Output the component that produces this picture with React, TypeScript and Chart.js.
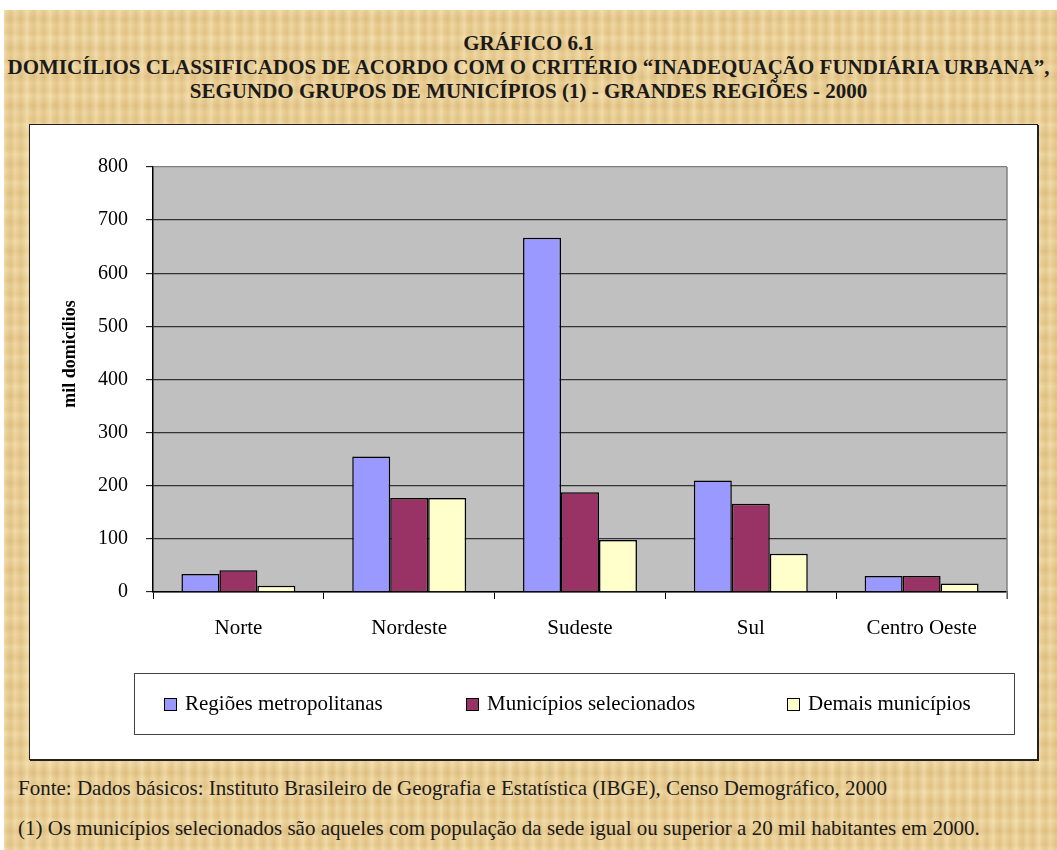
import React, { useEffect, useRef } from "react";
import { Chart, registerables } from "chart.js";

Chart.register(...registerables);

const categories = ["Norte", "Nordeste", "Sudeste", "Sul", "Centro Oeste"];
const regioesMetropolitanas = [34, 255, 667, 210, 30];
const municipiosSelecionados = [41, 177, 188, 166, 30];
const demaisMunicipios = [12, 177, 98, 72, 16];
const seriesNames = ["Regiões metropolitanas", "Municípios selecionados", "Demais municípios"];
const seriesColors = ["#9999FF", "#993366", "#FFFFCC"];
const yTickValues = [0, 100, 200, 300, 400, 500, 600, 700, 800];

const titleLines = [
  "GRÁFICO 6.1",
  "DOMICÍLIOS CLASSIFICADOS DE ACORDO COM O CRITÉRIO “INADEQUAÇÃO FUNDIÁRIA URBANA”,",
  "SEGUNDO GRUPOS DE MUNICÍPIOS (1) - GRANDES REGIÕES - 2000",
];
const yAxisTitle = "mil domicílios";
const footnotes = [
  "Fonte: Dados básicos: Instituto Brasileiro de Geografia e Estatística (IBGE), Censo Demográfico, 2000",
  "(1) Os municípios selecionados são aqueles com população da sede igual ou superior a 20 mil habitantes em 2000.",
];

const SERIF = "'Liberation Serif', 'Times New Roman', serif";

const plotBg = {
  id: "plotBg",
  beforeDraw(chart: any) {
    const { ctx, chartArea } = chart;
    ctx.save();
    ctx.fillStyle = "#C0C0C0";
    ctx.fillRect(chartArea.left, chartArea.top, chartArea.right - chartArea.left, chartArea.bottom - chartArea.top);
    ctx.restore();
  },
  afterDraw(chart: any) {
    const { ctx, chartArea } = chart;
    ctx.save();
    ctx.strokeStyle = "#808080";
    ctx.lineWidth = 1.5;
    ctx.beginPath();
    ctx.moveTo(chartArea.right, chartArea.top);
    ctx.lineTo(chartArea.right, chartArea.bottom + 7);
    ctx.stroke();
    // y axis title
    ctx.translate(40, 229);
    ctx.rotate(-Math.PI / 2);
    ctx.fillStyle = "#000000";
    ctx.font = `bold 18px ${SERIF}`;
    ctx.textAlign = "center";
    ctx.textBaseline = "middle";
    ctx.fillText(yAxisTitle, 0, 0);
    ctx.restore();
  },
};

function ChartCanvas() {
  const ref = useRef<HTMLCanvasElement>(null);
  useEffect(() => {
    if (!ref.current) return;
    const data = [regioesMetropolitanas, municipiosSelecionados, demaisMunicipios];
    const chart = new Chart(ref.current, {
      type: "bar",
      data: {
        labels: categories,
        datasets: seriesNames.map((name, i) => ({
          label: name,
          data: data[i],
          backgroundColor: seriesColors[i],
          borderColor: "#000000",
          borderWidth: 1.5,
          borderSkipped: "start",
          categoryPercentage: 0.667,
          barPercentage: 1,
        })),
      },
      options: {
        animation: false,
        responsive: false,
        devicePixelRatio: 1,
        layout: { padding: { left: 0, top: 42, right: 29, bottom: 116 } },
        plugins: {
          legend: { display: false },
          tooltip: { enabled: false },
          title: { display: false },
        },
        scales: {
          x: {
            type: "category",
            offset: true,
            grid: {
              offset: true,
              drawOnChartArea: false,
              drawTicks: true,
              tickLength: 7,
              tickColor: "#000000",
              tickWidth: 1,
            },
            border: { color: "#000000", width: 1.5 },
            ticks: {
              color: "#000000",
              padding: 17,
              font: { family: SERIF, size: 21 },
            },
            afterFit(scale: any) {
              scale.height = 50;
            },
          },
          y: {
            min: 0,
            max: 800,
            afterBuildTicks(scale: any) {
              scale.ticks = yTickValues.map((v) => ({ value: v }));
            },
            grid: {
              color: (c: any) => (c.tick && c.tick.value === 800 ? "#808080" : "#333333"),
              lineWidth: 1.3,
              tickLength: 7,
              tickColor: "#000000",
              tickWidth: 1,
            },
            border: { color: "#000000", width: 1.5 },
            ticks: {
              color: "#000000",
              padding: 18,
              font: { family: SERIF, size: 20 },
            },
            title: { display: false },
            afterFit(scale: any) {
              scale.width = 123;
            },
          },
        },
      },
      plugins: [plotBg],
    } as any);
    return () => chart.destroy();
  }, []);
  return <canvas ref={ref} width={1006} height={633} style={{ display: "block" }} />;
}

const paper: React.CSSProperties = {
  position: "absolute",
  left: 4,
  top: 10,
  width: 1053,
  height: 840,
  backgroundColor: "#E9CD92",
  backgroundImage: [
    "repeating-linear-gradient(90deg, rgba(255,245,210,0.35) 0px, rgba(255,245,210,0.0) 3px, rgba(200,160,90,0.18) 7px, rgba(255,245,210,0.2) 11px, rgba(180,140,70,0.12) 17px, rgba(255,245,210,0.3) 23px)",
    "repeating-linear-gradient(0deg, rgba(255,240,200,0.25) 0px, rgba(210,170,100,0.15) 5px, rgba(255,240,200,0.1) 13px, rgba(200,160,90,0.2) 19px, rgba(255,240,200,0.25) 29px)",
  ].join(","),
};

export default function App() {
  return (
    <div style={{ position: "fixed", left: 0, top: 0, width: 1057, height: 850, background: "#ffffff", overflow: "hidden", fontFamily: SERIF }}>
      <div style={paper} />
      {titleLines.map((t, i) => (
        <div
          key={i}
          style={{
            position: "absolute",
            left: 0,
            width: 1057,
            top: 31 + i * 24,
            height: 24,
            lineHeight: "24px",
            textAlign: "center",
            fontWeight: "bold",
            fontSize: 21,
            color: "#1a1a1a",
            whiteSpace: "nowrap",
          }}
        >
          {t}
        </div>
      ))}
      <div
        style={{
          position: "absolute",
          left: 29,
          top: 124,
          width: 1007,
          height: 634,
          background: "#ffffff",
          border: "1px solid #222",
          boxShadow: "1px 1px 0 #222",
        }}
      >
        <ChartCanvas />
        <div
          style={{
            position: "absolute",
            left: 104,
            top: 548,
            width: 879,
            height: 60,
            border: "1px solid #444",
          }}
        >
          {seriesNames.map((n, i) => (
            <div
              key={i}
              style={{
                position: "absolute",
                left: [29, 331, 652][i],
                top: 17,
                height: 24,
                lineHeight: "24px",
                fontSize: 21,
                whiteSpace: "nowrap",
                color: "#000",
              }}
            >
              <span
                style={{
                  display: "inline-block",
                  width: 11,
                  height: 11,
                  background: seriesColors[i],
                  border: "1.5px solid #000",
                  marginRight: 8,
                  verticalAlign: "-1px",
                }}
              />
              {n}
            </div>
          ))}
        </div>
      </div>
      {footnotes.map((f, i) => (
        <div
          key={i}
          style={{
            position: "absolute",
            left: 18,
            top: 776 + i * 40,
            height: 24,
            lineHeight: "24px",
            fontSize: 21,
            color: "#1a1a1a",
            whiteSpace: "nowrap",
          }}
        >
          {f}
        </div>
      ))}
    </div>
  );
}
